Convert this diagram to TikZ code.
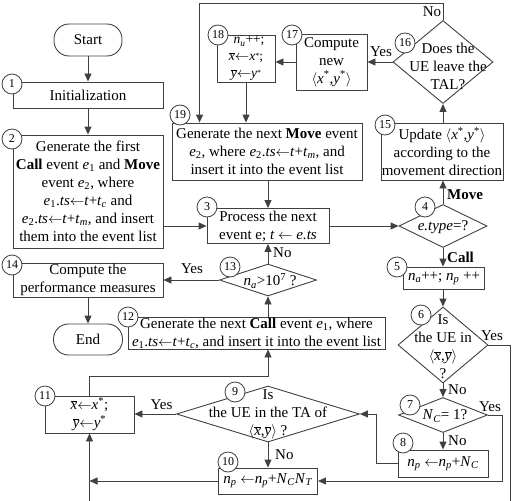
\documentclass[tikz,border=0pt]{standalone}
\usepackage{fontspec}
\setmainfont{Liberation Serif}
\usetikzlibrary{shapes.geometric,arrows.meta,calc}
\newcommand{\ev}[1]{\textit{e}\textsubscript{#1}}
\newcommand{\vs}[2]{\textit{#1}\textsubscript{\textit{#2}}}
\newcommand{\st}[1]{\textit{#1}\textsuperscript{*}}
\newcommand{\stl}[1]{\textit{#1}\raisebox{0.2em}{\footnotesize *}}
\newcommand{\xb}{$\overline{\mbox{\textit{x}}}$}
\newcommand{\yb}{$\overline{\mbox{\textit{y}}}$}
\newcommand{\arrl}{$\leftarrow$}
\tikzset{
  box/.style={draw=black!75, line width=0.9pt, rectangle, align=center, inner sep=0pt},
  term/.style={box, rounded corners=15pt},
  dec/.style={draw=black!75, line width=0.9pt, diamond, inner sep=0pt},
  dtext/.style={align=center, inner sep=0pt},
  num/.style={draw=black!75, line width=0.8pt, circle, fill=white, inner sep=0pt, minimum size=20pt, font=\fontsize{12}{12}\selectfont},
  arr/.style={draw=black!75, line width=0.9pt, -{Triangle[length=8pt,width=7pt]}},
  lbl/.style={inner sep=0pt}
}
\begin{document}
\begin{tikzpicture}[x=1pt, y=-1pt, font=\fontsize{15}{18}\selectfont]
    \useasboundingbox (0,0) rectangle (518,500);
    \node[term, minimum width=68pt, minimum height=32pt] (start) at (88,40) {Start};
    \node[box, minimum width=150pt, minimum height=26pt] (b1) at (88,95) {Initialization};
    \node[box, minimum width=150pt, minimum height=113pt] (b2) at (88,191.5) {Generate the first\\ \textbf{Call} event \ev{1} and \textbf{Move}\\ event \ev{2}, where\\ \ev{1}.\textit{ts}\arrl\textit{t}+\vs{t}{c} and\\ \ev{2}.\textit{ts}\arrl\textit{t}+\vs{t}{m}, and insert\\ them into the event list};
    \node[box, minimum width=190pt, minimum height=57pt] (b19) at (267,151.5) {Generate the next \textbf{Move} event\\ \ev{2}, where \ev{2}.\textit{ts}\arrl\textit{t}+\vs{t}{m}, and\\ insert it into the event list};
    \node[box, minimum width=58pt, minimum height=47pt, font=\fontsize{13.5}{17}\selectfont] (b18) at (246,58.5) {\hspace*{6pt}\vs{n}{u}++;\\ \xb\arrl\stl{x};\\ \yb\arrl\stl{y}};
    \node[box, minimum width=71pt, minimum height=56pt] (b17) at (331.5,62) {Compute\\ new\\ $\langle$\st{x},\st{y}$\rangle$};
    \node[dec, minimum width=100pt, minimum height=83pt] (d16) at (443,62) {};
    \node[dtext] (d16t) at (448,66) {Does the\\ UE leave the\\ TAL?};
    \node[box, minimum width=122pt, minimum height=57pt] (b15) at (442,151.5) {Update $\langle$\st{x},\st{y}$\rangle$\\ according to the\\ movement direction};
    \node[dec, minimum width=88pt, minimum height=43pt] (d4) at (443,226) {};
    \node[dtext] (d4t) at (443,227) {\textit{e.type}=?};
    \node[box, minimum width=122pt, minimum height=35pt] (b3) at (268,226) {Process the next\\ event e; \textit{t} $\leftarrow$ \textit{e.ts}};
    \node[dec, minimum width=97pt, minimum height=32pt] (d13) at (268,280) {};
    \node[dtext] (d13t) at (270,281) {\vs{n}{a}>10\textsuperscript{7} ?};
    \node[box, minimum width=150pt, minimum height=34pt] (b14) at (88,280) {Compute the\\ performance measures};
    \node[term, minimum width=69pt, minimum height=31pt] (end) at (88,339.5) {End};
    \node[box, minimum width=257pt, minimum height=32pt] (b12) at (256.5,333) {Generate the next \textbf{Call} event \ev{1}, where\\ \ev{1}.\textit{ts}\arrl\textit{t}+\vs{t}{c}, and insert it into the event list};
    \node[box, minimum width=81pt, minimum height=22pt] (b5) at (444,278) {\vs{n}{a}++; \vs{n}{p} ++};
    \node[dec, minimum width=90pt, minimum height=76pt] (d6) at (443,345) {};
    \node[dtext] (d6t) at (443,347) {Is\\ the UE in\\ $\langle$\xb,\yb$\rangle$\\ ?};
    \node[dec, minimum width=89pt, minimum height=35pt] (d7) at (443,415) {};
    \node[dtext] (d7t) at (445,416) {\vs{N}{C}= 1?};
    \node[box, minimum width=90pt, minimum height=27pt] (b8) at (443,463.5) {\vs{n}{p} \arrl\vs{n}{p}+\vs{N}{C}};
    \node[dec, minimum width=183pt, minimum height=56pt] (d9) at (268,414) {};
    \node[dtext] (d9t) at (268,414) {Is\\ the UE in the TA of\\ $\langle$\xb,\yb$\rangle$ ?};
    \node[box, minimum width=99pt, minimum height=26pt] (b10) at (268,481) {\vs{n}{p} \arrl\vs{n}{p}+\vs{N}{C}\vs{N}{T}};
    \node[box, minimum width=89pt, minimum height=37pt] (b11) at (89.5,414.5) {\xb\arrl\st{x};\\ \yb\arrl\st{y}};
    \draw[arr] (start) -- (b1);
    \draw[arr] (b1) -- (b2);
    \draw[arr] (b3.west -| b2.east) -- (b3.west);
    \draw[arr] (b3.north |- b19.south) -- (b3.north);
    \draw[arr] (b3.east) -- (d4.west);
    \draw[arr] (d4.north) -- (d4.north |- b15.south);
    \draw[arr] (d16.south |- b15.north) -- (d16.south);
    \draw[arr] (d16.west) -- (d16.west -| b17.east);
    \draw[arr] (b17.west) -- (b17.west -| b18.east);
    \draw[arr] (b18.south) -- (b18.south |- b19.north);
    \draw[arr] (d16.north) -- ++(0,-17) -| ($(b19.north west)+(28,0)$);
    \draw[arr] (d4.south) -- (d4.south |- b5.north);
    \draw[arr] (d4.south |- b5.south) -- (d6.north);
    \draw[arr] (d6.south) -- (d7.north);
    \draw[arr] (d7.south) -- (b8.north);
    \draw[arr] (b8.west) -- ++(-21,0) |- (d9.east);
    \draw[arr] (d7.east) -- ++(14,0) |- (b10.east);
    \draw[arr] (d6.east) -- ++(22,0) -- ++(0,175) -| (b11.south);
    \draw[arr] (b10.west) -- (b10.west -| b11.south);
    \draw[arr] (d9.south) -- (b10.north);
    \draw[arr] (d9.west) -- (d9.west -| b11.east);
    \draw[arr] (b11.north) -- ++(0,-19) -| (b12.south -| d13.south);
    \draw[arr] (b12.north -| d13.south) -- (d13.south);
    \draw[arr] (d13.north) -- (b3.south);
    \draw[arr] (d13.west) -- (d13.west -| b14.east);
    \draw[arr] (b14) -- (end);
    \node[lbl] (yes16) at (381,52) {Yes};
    \node[lbl] (no16) at (432,12) {No};
    \node[lbl, anchor=west] (move) at (447,195) {\textbf{Move}};
    \node[lbl, anchor=west] (call) at (447,257) {\textbf{Call}};
    \node[lbl] (yes6) at (492,336) {Yes};
    \node[lbl, anchor=west] (no6) at (448,390) {No};
    \node[lbl] (yes7) at (490,407) {Yes};
    \node[lbl, anchor=west] (no7) at (448,441) {No};
    \node[lbl, anchor=west] (no9) at (275,455) {No};
    \node[lbl] (yes9) at (161.5,405) {Yes};
    \node[lbl] (yes13) at (192,269) {Yes};
    \node[lbl, anchor=west] (no13) at (273,253) {No};
    \node[num] (n1) at (12,84) {1};
    \node[num] (n2) at (12,139) {2};
    \node[num] (n3) at (207,207) {3};
    \node[num] (n4) at (425,207) {4};
    \node[num] (n5) at (397,267) {5};
    \node[num] (n6) at (421,315) {6};
    \node[num] (n7) at (410,405) {7};
    \node[num] (n8) at (403,443) {8};
    \node[num] (n9) at (235,392) {9};
    \node[num] (n10) at (228,462) {10};
    \node[num] (n11) at (45,396) {11};
    \node[num] (n12) at (128,317) {12};
    \node[num] (n13) at (230,267) {13};
    \node[num] (n14) at (12,265) {14};
    \node[num] (n15) at (385,125) {15};
    \node[num] (n16) at (405,43) {16};
    \node[num] (n17) at (292,35) {17};
    \node[num] (n18) at (218,35) {18};
    \node[num] (n19) at (180,115) {19};
\end{tikzpicture}
\end{document}
